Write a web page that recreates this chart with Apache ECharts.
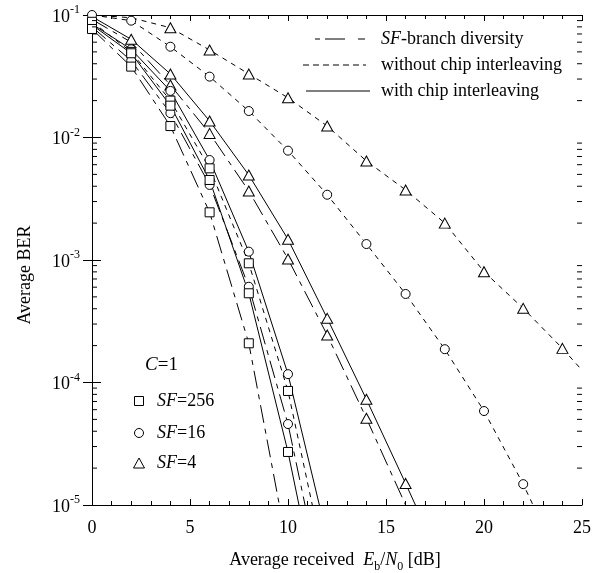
<!DOCTYPE html>
<html><head><meta charset="utf-8">
<script src="https://cdn.jsdelivr.net/npm/echarts@6/dist/echarts.min.js"></script>
<style>html,body{margin:0;padding:0;background:#fff}#c{width:602px;height:573px}</style>
</head><body><div id="c"></div>
<script>
// ---------- data ----------
const xTickValues = [0, 5, 10, 15, 20, 25];
const yTickExponents = [-5, -4, -3, -2, -1];
const yMinorMantissas = [2, 3, 4, 5, 6, 7, 8, 9];

// SF=4 (triangles)
const sf4WithoutX = [0, 2, 4, 6, 8, 10, 12, 14, 16, 18, 20, 22, 24, 25];
const sf4WithoutY = [0.1, 0.095, 0.0787, 0.0518, 0.033, 0.0211, 0.0124, 0.00643, 0.00373, 0.0020, 0.000803, 0.000403, 0.00019, 0.000126];
const sf4WithoutMarks = [4, 6, 8, 10, 12, 14, 16, 18, 20, 22, 24];
const sf4WithX = [0, 2, 4, 6, 8, 10, 12, 14, 16, 16.5];
const sf4WithY = [0.097, 0.0633, 0.033, 0.01364, 0.00494, 0.001476, 0.000334, 0.0000729, 0.000015, 0.00001];
const sf4WithMarks = [2, 4, 6, 8, 10, 12, 14, 16];
const sf4BranchX = [0, 2, 4, 6, 8, 10, 12, 14, 16];
const sf4BranchY = [0.092, 0.06, 0.0268, 0.0108, 0.00366, 0.00102, 0.000244, 0.000051, 0.00001];
const sf4BranchMarks = [4, 6, 8, 10, 12, 14];

// SF=16 (circles)
const sf16WithoutX = [0, 2, 4, 6, 8, 10, 12, 14, 16, 18, 20, 22, 22.5];
const sf16WithoutY = [0.1, 0.0899, 0.0551, 0.0314, 0.01645, 0.00781, 0.00341, 0.00135, 0.000528, 0.000187, 0.0000585, 0.0000148, 0.00001];
const sf16WithoutMarks = [0, 2, 4, 6, 8, 10, 12, 14, 16, 18, 20, 22];
const sf16WithX = [0, 2, 4, 6, 8, 10, 11.6];
const sf16WithY = [0.0845, 0.0525, 0.024, 0.00655, 0.00117, 0.000117, 0.00001];
const sf16WithMarks = [0, 2, 4, 6, 8, 10];
const sf16BranchX = [0, 2, 4, 6, 8, 10, 10.87];
const sf16BranchY = [0.08, 0.0424, 0.0158, 0.0041, 0.000605, 0.0000458, 0.00001];
const sf16BranchMarks = [2, 4, 6, 8, 10];

// SF=256 (squares)
const sf256WithoutX = [0, 2, 4, 6, 8, 10, 11.24];
const sf256WithoutY = [0.088, 0.05, 0.02, 0.0056, 0.00094, 0.0000853, 0.00001];
const sf256WithoutMarks = [0, 2, 4, 6, 8, 10];
const sf256WithX = [0, 2, 4, 6, 8, 10, 10.56];
const sf256WithY = [0.083, 0.0487, 0.0182, 0.0045, 0.000535, 0.0000271, 0.00001];
const sf256WithMarks = [2, 4, 6, 8, 10];
const sf256BranchX = [0, 2, 4, 6, 8, 9.56];
const sf256BranchY = [0.0769, 0.0379, 0.0124, 0.00245, 0.000209, 0.00001];
const sf256BranchMarks = [0, 2, 4, 6, 8];

// ---------- styles ----------
const FONT = 'Liberation Serif';
const DASH = [5, 5];
const DASHDOT = [18, 6, 5, 6];
const SYM = { tri: 'triangle', cir: 'circle', sq: 'rect' };
const SYMSIZE = { tri: [11, 10], cir: 9, sq: 9 };

const curves = [
  { x: sf4WithoutX, y: sf4WithoutY, m: sf4WithoutMarks, dash: DASH, s: 'tri' },
  { x: sf16WithoutX, y: sf16WithoutY, m: sf16WithoutMarks, dash: DASH, s: 'cir' },
  { x: sf4WithX, y: sf4WithY, m: sf4WithMarks, dash: 'solid', s: 'tri' },
  { x: sf4BranchX, y: sf4BranchY, m: sf4BranchMarks, dash: DASHDOT, s: 'tri' },
  { x: sf16WithX, y: sf16WithY, m: sf16WithMarks, dash: 'solid', s: 'cir' },
  { x: sf16BranchX, y: sf16BranchY, m: sf16BranchMarks, dash: DASHDOT, s: 'cir' },
  { x: sf256WithoutX, y: sf256WithoutY, m: sf256WithoutMarks, dash: DASH, s: 'sq' },
  { x: sf256WithX, y: sf256WithY, m: sf256WithMarks, dash: 'solid', s: 'sq' },
  { x: sf256BranchX, y: sf256BranchY, m: sf256BranchMarks, dash: DASHDOT, s: 'sq' }
];

const series = [];
curves.forEach(c => {
  series.push({
    type: 'line', data: c.x.map((v, i) => [v, c.y[i]]), symbol: 'none',
    lineStyle: { color: '#000', width: 1, type: c.dash }, z: 2, silent: true
  });
});
curves.forEach(c => {
  series.push({
    type: 'scatter',
    data: c.x.map((v, i) => [v, c.y[i]]).filter(p => c.m.includes(p[0])),
    symbol: SYM[c.s], symbolSize: SYMSIZE[c.s],
    itemStyle: { color: '#fff', borderColor: '#000', borderWidth: 1, opacity: 1 },
    z: 5, silent: true
  });
});

// minor log ticks on left and right edges
const minorData = [];
yTickExponents.slice(0, -1).forEach(e => yMinorMantissas.forEach(m => minorData.push([0, m * Math.pow(10, e)])));
series.push({
  type: 'custom', silent: true, z: 6, clip: false,
  data: minorData,
  renderItem: (params, api) => {
    const v = api.value(1);
    const l = api.coord([0, v]);
    const r = api.coord([25, v]);
    const st = { stroke: '#000', lineWidth: 1 };
    return { type: 'group', children: [
      { type: 'line', shape: { x1: l[0], y1: l[1], x2: l[0] + 5, y2: l[1] }, style: st },
      { type: 'line', shape: { x1: r[0], y1: r[1], x2: r[0] - 5, y2: r[1] }, style: st }
    ] };
  }
});

const axisLineS = { show: true, lineStyle: { color: '#000', width: 1 } };
const tf = { fontFamily: FONT, fontSize: 18, color: '#000' };

const option = {
  animation: false,
  backgroundColor: '#fff',
  grid: { left: 92, top: 15, width: 490, height: 490, containLabel: false, outerBoundsMode: 'none' },
  xAxis: [
    { type: 'value', min: 0, max: 25, interval: 5, position: 'bottom',
      axisLine: axisLineS, splitLine: { show: false },
      axisTick: { inside: true, length: 6, lineStyle: { color: '#000' } },
      minorTick: { show: true, splitNumber: 5, length: 4, lineStyle: { color: '#000' } },
      axisLabel: { ...tf, margin: 14, formatter: v => xTickValues.includes(v) ? String(v) : '' } },
    { type: 'value', min: 0, max: 25, interval: 5, position: 'top',
      axisLine: axisLineS, splitLine: { show: false },
      axisTick: { inside: true, length: 6, lineStyle: { color: '#000' } },
      minorTick: { show: true, splitNumber: 5, length: 4, lineStyle: { color: '#000' } },
      axisLabel: { show: false } }
  ],
  yAxis: [
    { type: 'log', logBase: 10, min: 1e-5, max: 1e-1, position: 'left',
      axisLine: axisLineS, splitLine: { show: false }, minorTick: { show: false },
      axisTick: { inside: true, length: 9, lineStyle: { color: '#000' } },
      axisLabel: { margin: 12, formatter: v => '{b|10}{s|' + Math.round(Math.log10(v)) + '}',
        rich: { b: { fontFamily: FONT, fontSize: 18, color: '#000', lineHeight: 22, verticalAlign: 'bottom' },
                s: { fontFamily: FONT, fontSize: 12, color: '#000', verticalAlign: 'top', lineHeight: 22 } } } },
    { type: 'log', logBase: 10, min: 1e-5, max: 1e-1, position: 'right',
      axisLine: axisLineS, splitLine: { show: false }, minorTick: { show: false },
      axisTick: { inside: true, length: 9, lineStyle: { color: '#000' } },
      axisLabel: { show: false } }
  ],
  series: series,
  graphic: [
    // axis names
    { type: 'text', x: 25, y: 275, rotation: Math.PI / 2,
      style: { text: 'Average BER', font: '18px "Liberation Serif"', fill: '#000', align: 'center', verticalAlign: 'middle' } },
    { type: 'text', x: 335, y: 560,
      style: { text: '{n|Average received  }{i|E}{sub|b}{n|/}{i|N}{sub|0}{n| [dB]}', align: 'center', verticalAlign: 'middle',
        rich: { n: { fontFamily: FONT, fontSize: 18, color: '#000', lineHeight: 26, verticalAlign: 'middle' },
                i: { fontFamily: FONT, fontSize: 18, fontStyle: 'italic', color: '#000', lineHeight: 26, verticalAlign: 'middle' },
                sub: { fontFamily: FONT, fontSize: 12, color: '#000', lineHeight: 26, verticalAlign: 'bottom' } } } },
    // top-right legend
    { type: 'line', shape: { x1: 315, y1: 39, x2: 320, y2: 39 }, style: { stroke: '#000', lineWidth: 1 } },
    { type: 'line', shape: { x1: 325, y1: 39, x2: 345, y2: 39 }, style: { stroke: '#000', lineWidth: 1 } },
    { type: 'line', shape: { x1: 358, y1: 39, x2: 365, y2: 39 }, style: { stroke: '#000', lineWidth: 1 } },
    { type: 'line', shape: { x1: 303, y1: 65, x2: 366, y2: 65 }, style: { stroke: '#000', lineWidth: 1, lineDash: [6, 4] } },
    { type: 'line', shape: { x1: 306, y1: 91, x2: 370, y2: 91 }, style: { stroke: '#000', lineWidth: 1 } },
    { type: 'text', x: 381, y: 39, style: { text: '{i|SF}{n|-branch diversity}', verticalAlign: 'middle',
        rich: { n: { fontFamily: FONT, fontSize: 18, color: '#000' }, i: { fontFamily: FONT, fontSize: 18, fontStyle: 'italic', color: '#000' } } } },
    { type: 'text', x: 381, y: 65, style: { text: 'without chip interleaving', font: '18px "Liberation Serif"', fill: '#000', verticalAlign: 'middle' } },
    { type: 'text', x: 381, y: 91, style: { text: 'with chip interleaving', font: '18px "Liberation Serif"', fill: '#000', verticalAlign: 'middle' } },
    // bottom-left legend
    { type: 'text', x: 145, y: 365, style: { text: '{i|C}{n|=1}', verticalAlign: 'middle',
        rich: { n: { fontFamily: FONT, fontSize: 19, color: '#000' }, i: { fontFamily: FONT, fontSize: 19, fontStyle: 'italic', color: '#000' } } } },
    { type: 'rect', shape: { x: 134.5, y: 396.5, width: 9, height: 9 }, style: { fill: '#fff', stroke: '#000', lineWidth: 1 } },
    { type: 'circle', shape: { cx: 139, cy: 433, r: 4.5 }, style: { fill: '#fff', stroke: '#000', lineWidth: 1 } },
    { type: 'polygon', shape: { points: [[139, 458], [133.5, 468], [144.5, 468]] }, style: { fill: '#fff', stroke: '#000', lineWidth: 1 } },
    { type: 'text', x: 157, y: 401, style: { text: '{i|SF}{n|=256}', verticalAlign: 'middle',
        rich: { n: { fontFamily: FONT, fontSize: 18, color: '#000' }, i: { fontFamily: FONT, fontSize: 18, fontStyle: 'italic', color: '#000' } } } },
    { type: 'text', x: 157, y: 433, style: { text: '{i|SF}{n|=16}', verticalAlign: 'middle',
        rich: { n: { fontFamily: FONT, fontSize: 18, color: '#000' }, i: { fontFamily: FONT, fontSize: 18, fontStyle: 'italic', color: '#000' } } } },
    { type: 'text', x: 157, y: 463, style: { text: '{i|SF}{n|=4}', verticalAlign: 'middle',
        rich: { n: { fontFamily: FONT, fontSize: 18, color: '#000' }, i: { fontFamily: FONT, fontSize: 18, fontStyle: 'italic', color: '#000' } } } }
  ]
};
const chart = echarts.init(document.getElementById('c'));
chart.setOption(option);
</script>
</body></html>
